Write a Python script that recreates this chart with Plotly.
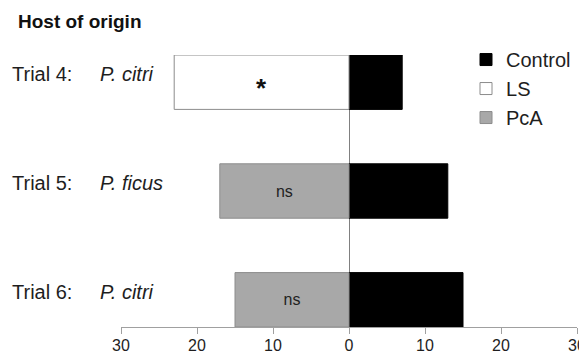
import plotly.graph_objects as go

trials = ["Trial 4:", "Trial 5:", "Trial 6:"]
hosts = ["P. citri", "P. ficus", "P. citri"]
control = [7, 13, 15]
ls_trials = ["Trial 4:"]
ls_values = [23]
ls_text = ["*"]
pca_trials = ["Trial 5:", "Trial 6:"]
pca_values = [17, 15]
pca_text = ["ns", "ns"]
tick_vals = [-30, -20, -10, 0, 10, 20, 30]
tick_text = ["30", "20", "10", "0", "10", "20", "30"]

FONT = "Liberation Sans, Arial, sans-serif"
EDGE = "#8c8c8c"
TXT = "#1e1e1e"

fig = go.Figure()
fig.add_trace(go.Bar(
    y=trials, x=control, orientation="h", name="Control",
    marker=dict(color="#000000", line=dict(color="#000000", width=1)),
    width=0.5,
))
fig.add_trace(go.Bar(
    y=ls_trials, x=[-v for v in ls_values], orientation="h", name="LS",
    marker=dict(color="#ffffff", line=dict(color=EDGE, width=1)),
    width=0.5,
))
fig.add_trace(go.Bar(
    y=pca_trials, x=[-v for v in pca_values], orientation="h", name="PcA",
    marker=dict(color="#a8a8a8", line=dict(color=EDGE, width=1)),
    width=0.5, text=pca_text, textposition="inside", insidetextanchor="middle",
    textangle=0, insidetextfont=dict(size=16, color="#222222", family=FONT),
    constraintext="none",
))

# significance marker for LS, centred in its bar
for t, v, s in zip(ls_trials, ls_values, ls_text):
    fig.add_annotation(x=-v / 2, y=t, xref="x", yref="y", text="<b>" + s + "</b>",
                       showarrow=False, xanchor="center", yanchor="middle", yshift=-6,
                       font=dict(size=26, color="#111111", family=FONT))

for t, h in zip(trials, hosts):
    fig.add_annotation(x=-0.2434, y=t, xref="paper", yref="y", text=t,
                       xanchor="left", yanchor="middle", showarrow=False, yshift=8,
                       font=dict(size=20, color=TXT, family=FONT))
    fig.add_annotation(x=-0.0505, y=t, xref="paper", yref="y", text="<i>" + h + "</i>",
                       xanchor="left", yanchor="middle", showarrow=False, yshift=8,
                       font=dict(size=20, color=TXT, family=FONT))

fig.update_layout(
    width=587, height=355,
    margin=dict(l=113, r=18, t=47, b=36, autoexpand=False),
    paper_bgcolor="white", plot_bgcolor="white",
    barmode="overlay",
    font=dict(family=FONT, color=TXT),
    title=dict(text="<b>Host of origin</b>", xref="container", yref="container",
               x=10 / 587, xanchor="left", y=1 - 13 / 355, yanchor="middle",
               font=dict(size=19, color="#111111", family=FONT)),
    legend=dict(x=0.7566, xanchor="left", y=1.055, yanchor="top",
                font=dict(size=20, color=TXT, family=FONT),
                bgcolor="rgba(0,0,0,0)", traceorder="normal"),
    showlegend=True,
    xaxis=dict(range=[-30, 30], tickvals=tick_vals, ticktext=tick_text,
               showgrid=False, zeroline=True, zerolinecolor="#808080", zerolinewidth=1,
               showline=True, linecolor="#a0a0a0", linewidth=1,
               ticks="outside", ticklen=6, tickcolor="#a0a0a0", tickwidth=1,
               tickfont=dict(size=16, color=TXT, family=FONT),
               ticklabelstandoff=-2, automargin=False, fixedrange=True),
    xaxis2=dict(range=[-30, 30], tickvals=tick_vals, overlaying="x", anchor="y",
                side="bottom", showticklabels=False, showgrid=False, zeroline=False,
                ticks="inside", ticklen=8, tickcolor="#a0a0a0", tickwidth=1,
                showline=False, automargin=False),
    yaxis=dict(categoryorder="array", categoryarray=trials[::-1],
               range=[-0.25, 2.25], showticklabels=False, showgrid=False,
               zeroline=False, showline=False, ticks="", automargin=False),
)

fig.write_html("out.html")
